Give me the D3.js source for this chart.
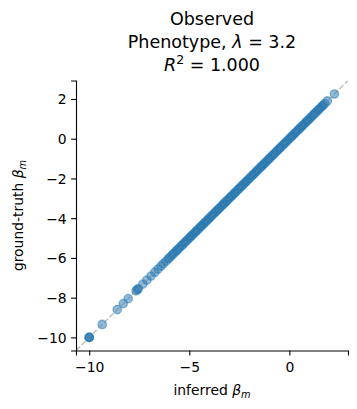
<!DOCTYPE html>
<html>
<head>
<meta charset="utf-8">
<script src="https://cdn.jsdelivr.net/npm/d3@7"></script>
<style>
  html, body { margin: 0; padding: 0; background: #fff; }
  svg { display: block; font-family: "DejaVu Sans", sans-serif; }
</style>
</head>
<body>
<svg id="chart" width="357" height="409"></svg>
<script>
// ground-truth beta_m values
const truthBeta = [-10.0, -10.0, -10.0, -9.35, -8.6, -8.3, -8.05, -7.66, -7.6, -7.55,
  -7.32, -7.12, -6.91, -6.72, -6.56, -6.41, -6.29, -6.16, -6.05, -5.97, -5.87, -5.8, -5.71,
  -5.62, -5.56, -5.47, -5.38, -5.31, -5.23, -5.14, -5.08, -4.99, -4.91, -4.85, -4.76, -4.68,
  -4.62, -4.53, -4.45, -4.39, -4.3, -4.24, -4.15, -4.07, -4.01, -3.92, -3.86, -3.77, -3.69,
  -3.63, -3.54, -3.48, -3.39, -3.31, -3.25, -3.16, -3.1, -3.01, -2.93, -2.87, -2.78, -2.72,
  -2.63, -2.55, -2.49, -2.4, -2.34, -2.25, -2.17, -2.11, -2.02, -1.96, -1.87, -1.79, -1.73,
  -1.64, -1.58, -1.49, -1.41, -1.35, -1.26, -1.2, -1.11, -1.03, -0.97, -0.88, -0.82, -0.73,
  -0.65, -0.59, -0.5, -0.44, -0.35, -0.27, -0.21, -0.12, -0.06, 0.03, 0.11, 0.17, 0.26, 0.32,
  0.41, 0.49, 0.55, 0.64, 0.7, 0.79, 0.87, 0.93, 1.02, 1.08, 1.17, 1.25, 1.31, 1.4, 1.46,
  1.55, 1.63, 1.69, 1.77, 1.9, 2.25];
// inferred beta_m values (R^2 = 1.000, practically identical)
const inferredBeta = [-10.0, -10.0, -10.0, -9.35, -8.6, -8.3, -8.05, -7.66, -7.6, -7.55,
  -7.32, -7.12, -6.91, -6.72, -6.56, -6.41, -6.29, -6.16, -6.05, -5.97, -5.87, -5.8, -5.71,
  -5.62, -5.56, -5.47, -5.38, -5.31, -5.23, -5.14, -5.08, -4.99, -4.91, -4.85, -4.76, -4.68,
  -4.62, -4.53, -4.45, -4.39, -4.3, -4.24, -4.15, -4.07, -4.01, -3.92, -3.86, -3.77, -3.69,
  -3.63, -3.54, -3.48, -3.39, -3.31, -3.25, -3.16, -3.1, -3.01, -2.93, -2.87, -2.78, -2.72,
  -2.63, -2.55, -2.49, -2.4, -2.34, -2.25, -2.17, -2.11, -2.02, -1.96, -1.87, -1.79, -1.73,
  -1.64, -1.58, -1.49, -1.41, -1.35, -1.26, -1.2, -1.11, -1.03, -0.97, -0.88, -0.82, -0.73,
  -0.65, -0.59, -0.5, -0.44, -0.35, -0.27, -0.21, -0.12, -0.06, 0.03, 0.11, 0.17, 0.26, 0.32,
  0.41, 0.49, 0.55, 0.64, 0.7, 0.79, 0.87, 0.93, 1.02, 1.08, 1.17, 1.25, 1.31, 1.4, 1.46,
  1.55, 1.63, 1.69, 1.77, 1.9, 2.25];
const xTicks = [-10, -5, 0];
const yTicks = [-10, -8, -6, -4, -2, 0, 2];
const axisLimits = [-10.66, 2.93];
const titleLines = ["Observed", "Phenotype, λ = 3.2", "R² = 1.000"];

const svg = d3.select("#chart");
const mLeft = 76, mRight = 348, mTop = 80.5, mBottom = 350.5;

const x = d3.scaleLinear().domain(axisLimits).range([mLeft, mRight]);
const y = d3.scaleLinear().domain(axisLimits).range([mBottom, mTop]);

svg.append("defs").append("clipPath").attr("id", "clip")
  .append("rect").attr("x", mLeft).attr("y", mTop)
  .attr("width", mRight - mLeft).attr("height", mBottom - mTop);

const pts = inferredBeta.map((v, i) => ({ x: v, y: truthBeta[i] }));

const plot = svg.append("g").attr("clip-path", "url(#clip)");
plot.selectAll("circle").data(pts).enter().append("circle")
  .attr("cx", d => x(d.x)).attr("cy", d => y(d.y))
  .attr("r", 4.2)
  .attr("fill", "#1f77b4").attr("fill-opacity", 0.5)
  .attr("stroke", "#1f77b4").attr("stroke-opacity", 0.5).attr("stroke-width", 1.3);

plot.append("path")
  .datum(axisLimits)
  .attr("d", d3.line().x(d => x(d)).y(d => y(d)))
  .attr("stroke", "#808080").attr("stroke-opacity", 0.5)
  .attr("stroke-width", 1.5).attr("stroke-dasharray", "5.5,2.4")
  .attr("fill", "none");

// axes
const fmt = d3.format("d");
const xAxis = svg.append("g").attr("transform", `translate(0,${mBottom})`)
  .call(d3.axisBottom(x).tickValues(xTicks).tickFormat(fmt).tickSizeOuter(0).tickSize(4.9).tickPadding(3));
const yAxis = svg.append("g").attr("transform", `translate(${mLeft},0)`)
  .call(d3.axisLeft(y).tickValues(yTicks).tickFormat(fmt).tickSizeOuter(0).tickSize(4.9).tickPadding(4.5));
[xAxis, yAxis].forEach(a => {
  a.select(".domain").attr("stroke", "#000").attr("stroke-width", 1.1);
  a.selectAll(".tick line").attr("stroke", "#000").attr("stroke-width", 1.1);
  a.selectAll(".tick text").attr("fill", "#000")
    .style("font-family", "DejaVu Sans").style("font-size", "13.9px");
});
xAxis.selectAll(".tick text").attr("dy", null).attr("y", 21.5);
yAxis.selectAll(".tick text").attr("dy", "0.36em");

// title
const title = svg.append("text").attr("text-anchor", "middle")
  .style("font-size", "17.5px").attr("fill", "#000");
title.append("tspan").attr("x", 212).attr("y", 25).text(titleLines[0]);
const l2 = title.append("tspan").attr("x", 212).attr("y", 47.5);
l2.append("tspan").text("Phenotype, ");
l2.append("tspan").style("font-style", "italic").text("λ");
l2.append("tspan").text(" = 3.2");
const l3 = title.append("tspan").attr("x", 212).attr("y", 71);
l3.append("tspan").style("font-style", "italic").text("R");
l3.append("tspan").attr("dy", -7).style("font-size", "12.5px").text("2");
l3.append("tspan").attr("dy", 7).text(" = 1.000");

// axis labels
const xl = svg.append("text").attr("x", 212).attr("y", 395)
  .attr("text-anchor", "middle").style("font-size", "13.9px").attr("fill", "#000");
xl.append("tspan").text("inferred ");
xl.append("tspan").style("font-style", "italic").text("β");
xl.append("tspan").attr("dy", 3).style("font-style", "italic").style("font-size", "9.8px").text("m");

const yl = svg.append("text")
  .attr("transform", `translate(22.5,${(mTop + mBottom) / 2}) rotate(-90)`)
  .attr("text-anchor", "middle").style("font-size", "13.9px").attr("fill", "#000");
yl.append("tspan").text("ground-truth ");
yl.append("tspan").style("font-style", "italic").text("β");
yl.append("tspan").attr("dy", 3).style("font-style", "italic").style("font-size", "9.8px").text("m");
</script>
</body>
</html>
